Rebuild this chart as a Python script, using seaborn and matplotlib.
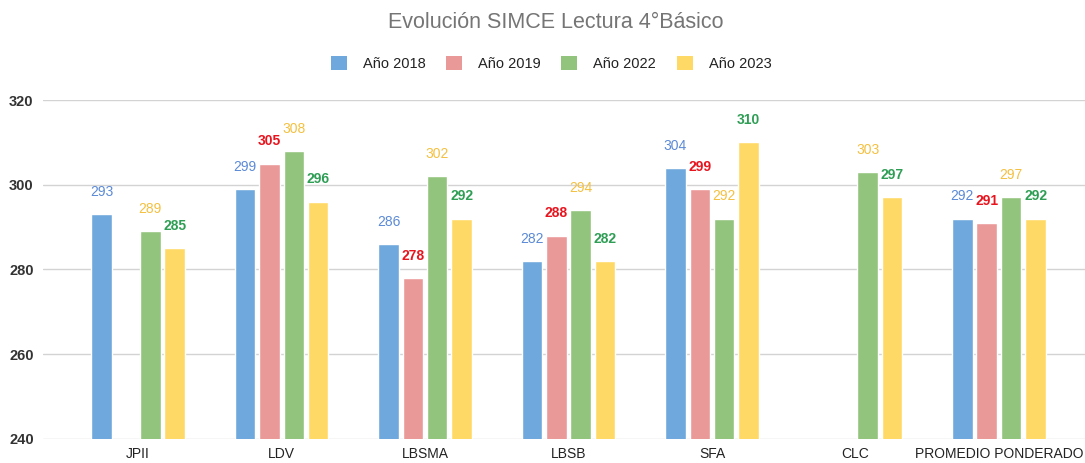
import numpy as np
import pandas as pd
import seaborn as sns
import matplotlib.pyplot as plt
from matplotlib.patches import Patch

# Data
colegios = ['JPII', 'LDV', 'LBSMA', 'LBSB', 'SFA', 'CLC', 'PROMEDIO PONDERADO']
anios = ['Año 2018', 'Año 2019', 'Año 2022', 'Año 2023']
puntaje_2018 = [293, 299, 286, 282, 304, np.nan, 292]
puntaje_2019 = [np.nan, 305, 278, 288, 299, np.nan, 291]
puntaje_2022 = [289, 308, 302, 294, 292, 303, 297]
puntaje_2023 = [285, 296, 292, 282, 310, 297, 292]

bar_colors = ['#6fa8dc', '#ea9999', '#93c47d', '#ffd966']
label_colors = ['#5b8ad6', '#e8141e', '#f4c040', '#2f9e55']
label_weights = ['normal', 'bold', 'normal', 'bold']


def build_frame():
    rows = []
    for anio, valores in zip(anios, [puntaje_2018, puntaje_2019, puntaje_2022, puntaje_2023]):
        for colegio, v in zip(colegios, valores):
            rows.append({'colegio': colegio, 'anio': anio, 'puntaje': v})
    return pd.DataFrame(rows).dropna()


def main():
    df = build_frame()

    sns.set_theme(style='white')
    plt.rcParams['font.family'] = ['Liberation Sans', 'DejaVu Sans']

    fig = plt.figure(figsize=(10.85, 4.63), dpi=100)
    ax = fig.add_axes([0.04, 0.052, 0.96, 0.732])

    sns.barplot(data=df, x='colegio', y='puntaje', hue='anio',
                order=colegios, hue_order=anios,
                palette=dict(zip(anios, bar_colors)),
                width=0.68, gap=0.16, errorbar=None, legend=False,
                saturation=1, ax=ax)

    for cont, col, w in zip(ax.containers, label_colors, label_weights):
        ax.bar_label(cont, fmt='%.0f', padding=11, color=col,
                     fontsize=10, fontweight=w)

    ax.set_ylim(240, 320)
    ax.set_yticks([240, 260, 280, 300, 320])
    ax.set_xlim(-0.66, 6.6)
    ax.grid(axis='y', color='#d3d3d3', linewidth=1)
    ax.set_axisbelow(True)
    sns.despine(ax=ax, left=True, bottom=True)
    ax.set_xlabel('')
    ax.set_ylabel('')
    ax.tick_params(axis='y', length=0, pad=7, labelsize=10.5, labelcolor='#333333')
    ax.tick_params(axis='x', length=0, pad=6, labelsize=10, labelcolor='#222222')
    for t in ax.get_yticklabels():
        t.set_fontweight('bold')

    fig.text(0.512, 0.952, 'Evolución SIMCE Lectura 4°Básico', ha='center', va='center',
             fontsize=15.5, color='#757575')

    handles = [Patch(facecolor=c, edgecolor='none', label=a) for a, c in zip(anios, bar_colors)]
    leg = fig.legend(handles=handles, loc='center', bbox_to_anchor=(0.508, 0.862), ncol=4,
                     frameon=False, handlelength=1.1, handleheight=1.1,
                     handletextpad=1.1, columnspacing=1.4,
                     prop={'weight': 'medium', 'size': 10.5})
    for t in leg.get_texts():
        t.set_color('#222222')

    fig.savefig('out.png', dpi=100)
    plt.close(fig)


if __name__ == '__main__':
    main()
